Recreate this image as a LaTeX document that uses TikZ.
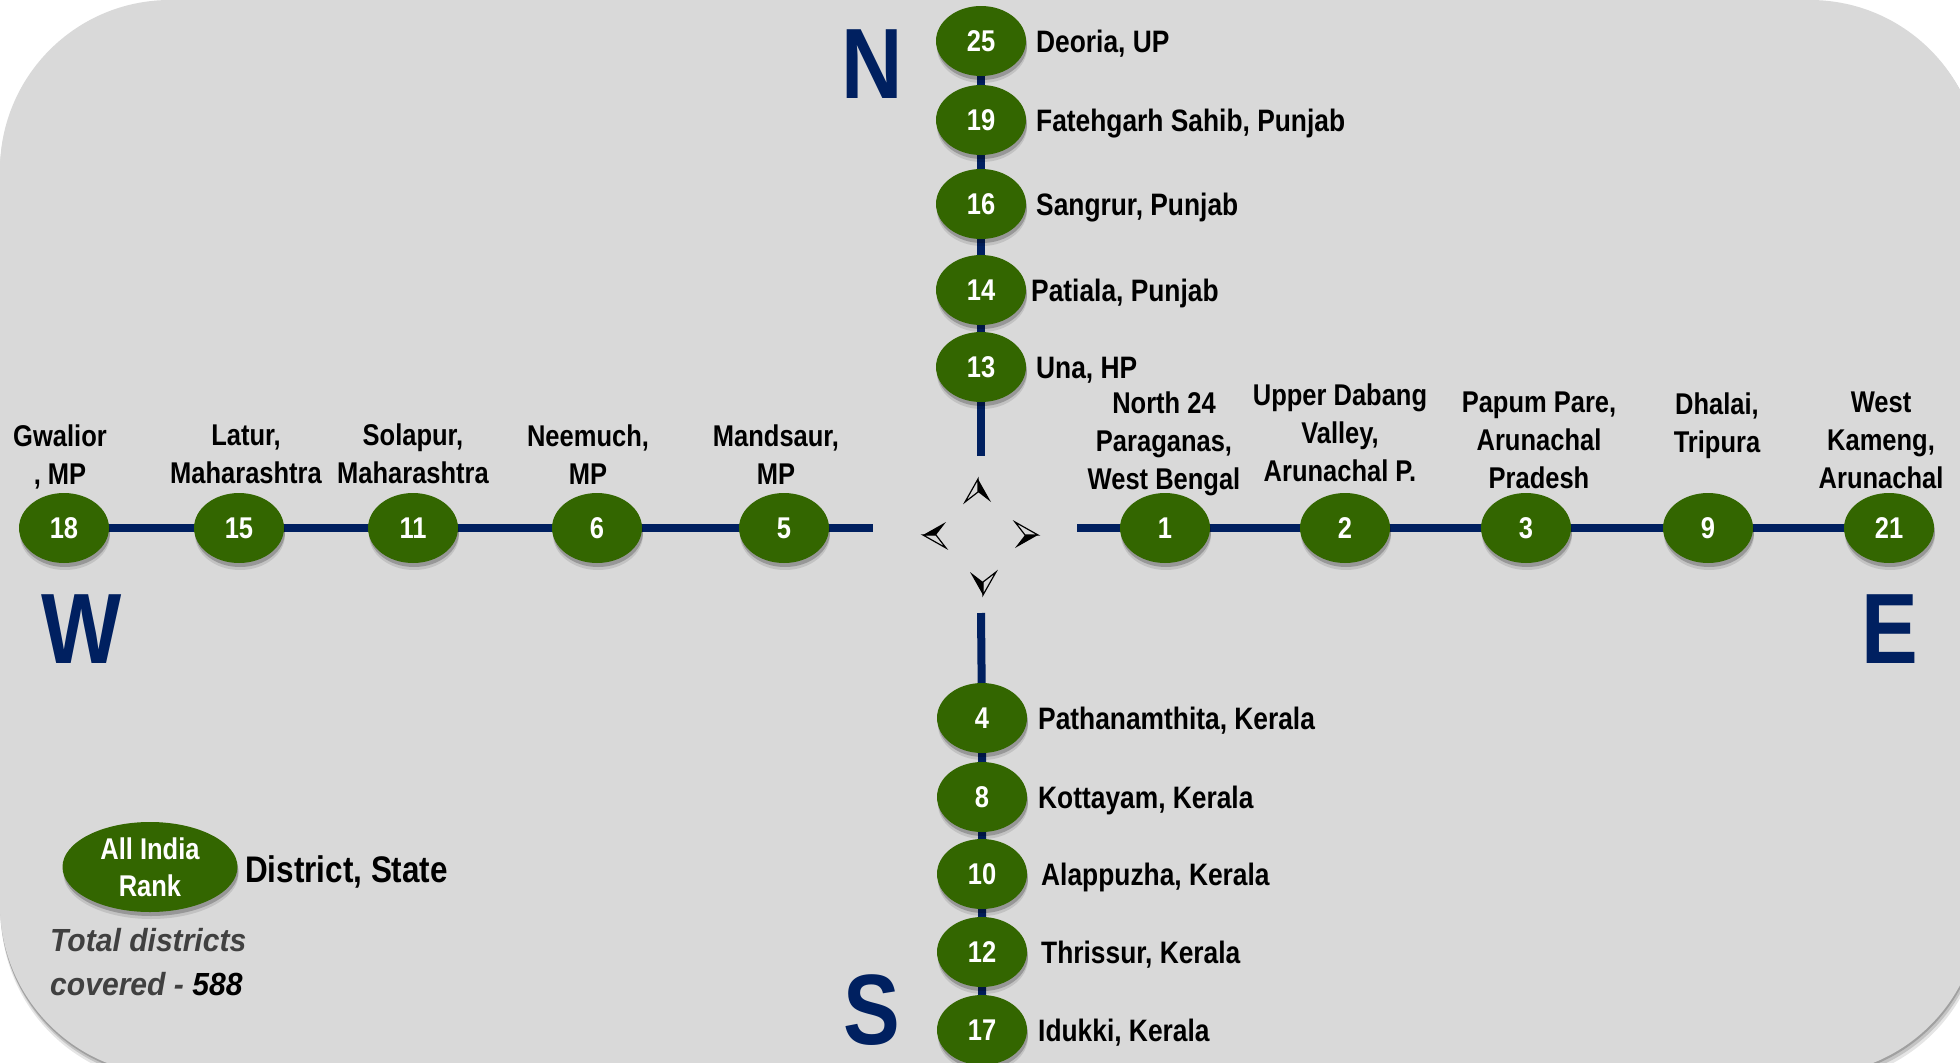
\documentclass[tikz,border=0pt]{standalone}
\usepackage{fontspec}
\setmainfont{Liberation Sans}[FakeStretch=0.85]
\newfontfamily\legendfont{Liberation Sans}[FakeStretch=0.94]
\usetikzlibrary{shapes.geometric,shadows,backgrounds}
\definecolor{bgray}{HTML}{D9D9D9}
\definecolor{navy}{HTML}{002060}
\definecolor{rankgreen}{HTML}{336600}
\definecolor{txtgray}{HTML}{404040}
\pgfdeclarelayer{panel}
\pgfsetlayers{panel,background,main}
\begin{document}
\begin{tikzpicture}[x=1pt,y=-1pt,
  rank/.style={ellipse, fill=rankgreen, minimum width=90, minimum height=70, inner sep=0,
    text=white, font=\fontsize{30}{34}\selectfont\bfseries,
    preaction={draw=none, fill=black, opacity=0.10, transform canvas={xshift=1pt, yshift=-7pt}},
    drop shadow={shadow xshift=1pt, shadow yshift=-4pt, fill=black, opacity=0.22}},
  axisline/.style={draw=navy, line width=8},
  lbl/.style={inner sep=0, anchor=base west, font=\fontsize{31}{38}\selectfont\bfseries},
  clbl/.style={inner sep=0, anchor=north, align=center, font=\fontsize{30}{38}\selectfont\bfseries},
  dirletter/.style={inner sep=0, text=navy, font=\fontsize{100}{100}\selectfont\bfseries},
  compassarrow/.pic={
    \fill[black] (0,-23) -- (13,0) -- (0,-10) -- cycle;
    \draw[black, line width=1.2, line join=miter] (0,-23) -- (-13,0) -- (0,-10) -- cycle;
  }]
\useasboundingbox (0,0) rectangle (1960,1063);

% background panel
\begin{pgfonlayer}{panel}
  \clip (0,0) rectangle (1960,1063);
  \fill[white] (0,0) rectangle (1960,1063);
  \fill[black, opacity=0.10, rounded corners=170] (1,7) rectangle (1983,1083);
  \fill[black, opacity=0.14, rounded corners=170] (1,4) rectangle (1982,1080);
  \fill[black, opacity=0.18, rounded corners=170] (0,2) rectangle (1981,1077);
  \fill[bgray, rounded corners=170] (0,0) rectangle (1980,1075);
\end{pgfonlayer}

% North
\node[rank] (n25) at (981,41) {25};
\node[rank] (n19) at (981,120) {19};
\node[rank] (n16) at (981,204) {16};
\node[rank] (n14) at (981,290) {14};
\node[rank] (n13) at (981,367) {13};
\coordinate (nend) at (981,456);
\node[lbl] (ln25) at (1036,52) {Deoria, UP};
\node[lbl] (ln19) at (1036,131) {Fatehgarh Sahib, Punjab};
\node[lbl] (ln16) at (1036,215) {Sangrur, Punjab};
\node[lbl] (ln14) at (1031,301) {Patiala, Punjab};
\node[lbl] (ln13) at (1036,378) {Una, HP};

% South
\coordinate (send) at (981,613);
\node[rank] (s4) at (982,718) {4};
\node[rank] (s8) at (982,797) {8};
\node[rank] (s10) at (982,874) {10};
\node[rank] (s12) at (982,952) {12};
\node[rank] (s17) at (982,1030) {17};
\node[lbl] (ls4) at (1038,729) {Pathanamthita, Kerala};
\node[lbl] (ls8) at (1038,808) {Kottayam, Kerala};
\node[lbl] (ls10) at (1041,885) {Alappuzha, Kerala};
\node[lbl] (ls12) at (1041,963) {Thrissur, Kerala};
\node[lbl] (ls17) at (1038,1041) {Idukki, Kerala};

% West
\node[rank] (w18) at (64,528) {18};
\node[rank] (w15) at (239,528) {15};
\node[rank] (w11) at (413,528) {11};
\node[rank] (w6) at (597,528) {6};
\node[rank] (w5) at (784,528) {5};
\coordinate (wend) at (873,528);
\node[clbl] (lw18) at (60,425) {Gwalior\\, MP};
\node[clbl] (lw15) at (246,425) {Latur,\\Maharashtra};
\node[clbl] (lw11) at (413,424) {Solapur,\\Maharashtra};
\node[clbl] (lw6) at (588,425) {Neemuch,\\MP};
\node[clbl] (lw5) at (776,425) {Mandsaur,\\MP};

% East
\coordinate (eend) at (1077,528);
\node[rank] (e1) at (1165,528) {1};
\node[rank] (e2) at (1345,528) {2};
\node[rank] (e3) at (1526,528) {3};
\node[rank] (e9) at (1708,528) {9};
\node[rank] (e21) at (1889,528) {21};
\node[clbl] (le1) at (1164,392) {North 24\\Paraganas,\\West Bengal};
\node[clbl] (le2) at (1340,384) {Upper Dabang\\Valley,\\Arunachal P.};
\node[clbl] (le3) at (1539,392) {Papum Pare,\\Arunachal\\Pradesh};
\node[clbl] (le9) at (1717,393) {Dhalai,\\Tripura};
\node[clbl] (le21) at (1881,392) {West\\Kameng,\\Arunachal};

% axis lines
\begin{pgfonlayer}{background}
  \draw[axisline] (n25.center) -- (n19.center) -- (n16.center) -- (n14.center) -- (n13.center) -- (nend);
  \draw[axisline] (send) -- (s4.center) -- (s8.center) -- (s10.center) -- (s12.center) -- (s17.center);
  \draw[axisline] (w18.center) -- (w15.center) -- (w11.center) -- (w6.center) -- (w5.center) -- (wend);
  \draw[axisline] (eend) -- (e1.center) -- (e2.center) -- (e3.center) -- (e9.center) -- (e21.center);
\end{pgfonlayer}

% direction letters
\node[dirletter] (dN) at (872,64) {N};
\node[dirletter] (dW) at (82,629) {W};
\node[dirletter] (dE) at (1890,629) {E};
\node[dirletter] (dS) at (872,1010) {S};

% compass rose
\pic at (978,502) {compassarrow};
\pic[rotate=90] at (946,535) {compassarrow};
\pic[rotate=180] at (983,572) {compassarrow};
\pic[rotate=-90] at (1015,535) {compassarrow};

% legend
\node[rank, minimum width=175, minimum height=90, align=center,
      font=\fontsize{30}{37}\selectfont\bfseries] (legend) at (150,867) {All India\\Rank};
\node[inner sep=0, anchor=base west, font=\fontsize{37}{40}\selectfont\bfseries] (legtext) at (245,882) {District, State};
\node[inner sep=0, anchor=north west, align=left, text=txtgray,
      font=\legendfont\fontsize{32}{44}\selectfont\bfseries\itshape] (total) at (50,928)
      {Total districts\\covered - \textcolor{black}{588}};
\end{tikzpicture}
\end{document}
